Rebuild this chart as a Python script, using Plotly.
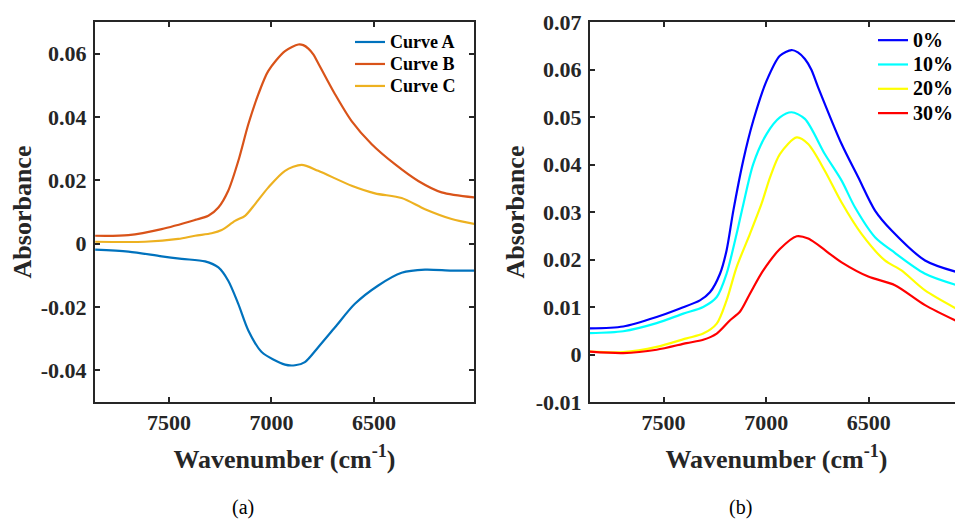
import plotly.graph_objects as go

# ---------------- Panel (a) data ----------------
wn_a = [7860, 7698, 7536, 7438, 7324, 7259, 7211, 7162, 7113, 7048, 6934, 6885, 6837,
        6772, 6690, 6593, 6479, 6365, 6251, 6121, 6007]
curve_a = [-0.0019, -0.0025, -0.0040, -0.0048, -0.0056, -0.0075, -0.0117, -0.0190, -0.0274,
           -0.0342, -0.0382, -0.0384, -0.0374, -0.0327, -0.0264, -0.0190, -0.0132, -0.0092,
           -0.0082, -0.0085, -0.0085]

wn_b = [7860, 7698, 7536, 7373, 7308, 7259, 7211, 7162, 7113, 7064, 7016, 6934, 6869,
        6845, 6820, 6795, 6772, 6690, 6609, 6511, 6398, 6284, 6170, 6007]
curve_b = [0.0025, 0.0027, 0.0046, 0.0075, 0.0088, 0.0114, 0.0167, 0.0261, 0.0377, 0.0472,
           0.0545, 0.0608, 0.0629, 0.0627, 0.0616, 0.0597, 0.0570, 0.0472, 0.0387, 0.0314,
           0.0251, 0.0198, 0.0162, 0.0146]

wn_c = [7860, 7617, 7455, 7373, 7292, 7243, 7178, 7129, 7080, 7016, 6934, 6853, 6772,
        6609, 6495, 6365, 6251, 6121, 6007]
curve_c = [0.0006, 0.0006, 0.0015, 0.0025, 0.0033, 0.0043, 0.0072, 0.0088, 0.0125, 0.0177,
           0.0230, 0.0249, 0.0230, 0.0183, 0.0159, 0.0144, 0.0109, 0.0078, 0.0062]

names_a = ["Curve A", "Curve B", "Curve C"]
colors_a = ["#0072BD", "#D95319", "#EDB120"]

# ---------------- Panel (b) data ----------------
wn_0 = [7860, 7697, 7534, 7420, 7323, 7274, 7225, 7193, 7160, 7112, 7063, 6998, 6933,
        6876, 6845, 6811, 6780, 6746, 6632, 6551, 6469, 6388, 6225, 6040]
pct_0 = [0.0055, 0.0059, 0.0079, 0.0097, 0.0114, 0.0131, 0.0170, 0.0219, 0.0303, 0.0408,
         0.0492, 0.0576, 0.0629, 0.0641, 0.0636, 0.0622, 0.0600, 0.0562, 0.0443, 0.0373,
         0.0303, 0.0261, 0.0198, 0.0170]

wn_10 = [7860, 7697, 7534, 7404, 7307, 7241, 7193, 7144, 7112, 7063, 6998, 6933, 6876,
         6811, 6714, 6632, 6567, 6469, 6388, 6225, 6040]
pct_10 = [0.0045, 0.0049, 0.0066, 0.0086, 0.0100, 0.0121, 0.0170, 0.0254, 0.0315, 0.0401,
          0.0464, 0.0499, 0.0510, 0.0496, 0.0422, 0.0366, 0.0310, 0.0247, 0.0219, 0.0170,
          0.0142]

wn_20 = [7860, 7697, 7534, 7388, 7307, 7241, 7193, 7144, 7079, 7022, 6981, 6933, 6851,
         6795, 6714, 6632, 6535, 6421, 6340, 6225, 6040]
pct_20 = [0.0006, 0.0005, 0.0016, 0.0034, 0.0044, 0.0065, 0.0114, 0.0184, 0.0254, 0.0318,
          0.0373, 0.0422, 0.0457, 0.0443, 0.0387, 0.0320, 0.0254, 0.0198, 0.0177, 0.0135,
          0.0089]

wn_30 = [7860, 7697, 7534, 7388, 7307, 7241, 7176, 7128, 7079, 7014, 6933, 6851, 6795,
         6632, 6502, 6372, 6225, 6040]
pct_30 = [0.0006, 0.0003, 0.0010, 0.0024, 0.0031, 0.0044, 0.0072, 0.0090, 0.0128, 0.0177,
          0.0222, 0.0249, 0.0244, 0.0194, 0.0164, 0.0146, 0.0104, 0.0064]

names_b = ["0%", "10%", "20%", "30%"]
colors_b = ["#0000FF", "#00FFFF", "#FFFF00", "#FF0000"]

x_ticks = [7500, 7000, 6500]
y_ticks_a = [-0.04, -0.02, 0, 0.02, 0.04, 0.06]
y_ticks_b = [-0.01, 0, 0.01, 0.02, 0.03, 0.04, 0.05, 0.06, 0.07]

SERIF = "Times New Roman"
AXC = "#262626"

# page body has an 8px margin; figure is sized to fit inside the 963x521 window
W, H, OFF = 955, 513, 8


def px(x):
    return (x - OFF) / W


def py(y):
    return 1 - (y - OFF) / H


def b(s, size=None):
    if size:
        return '<span style="font-size:%dpx"><b>%s</b></span>' % (size, s)
    return "<b>" + s + "</b>"


fig = go.Figure()

for wn, vals, nm, col in zip([wn_a, wn_b, wn_c], [curve_a, curve_b, curve_c], names_a, colors_a):
    fig.add_trace(go.Scatter(x=wn, y=vals, mode="lines", name=b(nm, 18),
                             line=dict(color=col, width=2.2, shape="spline", smoothing=0.8),
                             xaxis="x", yaxis="y", legend="legend"))

for wn, vals, nm, col in zip([wn_0, wn_10, wn_20, wn_30], [pct_0, pct_10, pct_20, pct_30],
                             names_b, colors_b):
    fig.add_trace(go.Scatter(x=wn, y=vals, mode="lines", name=b(nm, 20),
                             line=dict(color=col, width=2.2, shape="spline", smoothing=0.8),
                             xaxis="x2", yaxis="y2", legend="legend2"))

tickfont = dict(family=SERIF, size=22, color=AXC)
titlefont = dict(family=SERIF, size=26, color=AXC)

common_x = dict(showgrid=False, zeroline=False, showline=True, linecolor=AXC, linewidth=2,
                ticks="inside", ticklen=5, tickwidth=2, tickcolor=AXC, automargin=False,
                tickvals=x_ticks, ticktext=[b(str(t)) for t in x_ticks],
                tickfont=tickfont, ticklabelstandoff=0,
                title=dict(text=b("Wavenumber (cm<sup>-1</sup>)"), font=titlefont, standoff=15))
common_y = dict(showgrid=False, zeroline=False, showline=True, linecolor=AXC, linewidth=2,
                ticks="inside", ticklen=5, tickwidth=2, tickcolor=AXC, automargin=False,
                tickfont=tickfont, ticklabelstandoff=2)

fig.update_layout(
    width=W, height=H,
    margin=dict(l=0, r=0, t=0, b=0, autoexpand=False),
    paper_bgcolor="white", plot_bgcolor="white",
    font=dict(family=SERIF),
    showlegend=True,
    xaxis=dict(common_x, domain=[px(95), px(474)], range=[7861, 6012], mirror="ticks",
               anchor="y"),
    yaxis=dict(common_y, domain=[py(402), py(22)], range=[-0.05, 0.07],
               tickvals=y_ticks_a,
               ticktext=[b(s) for s in ["-0.04", "-0.02", "0", "0.02", "0.04", "0.06"]],
               title=dict(text=b("Absorbance"), font=titlefont, standoff=11),
               mirror="ticks", anchor="x"),
    xaxis2=dict(common_x, domain=[px(590), 1.0], range=[7859, 6040], mirror="ticks",
                anchor="y2"),
    yaxis2=dict(common_y, domain=[py(402), py(22)], range=[-0.01, 0.07],
                tickvals=y_ticks_b,
                ticktext=[b(s) for s in ["-0.01", "0", "0.01", "0.02", "0.03", "0.04",
                                         "0.05", "0.06", "0.07"]],
                title=dict(text=b("Absorbance"), font=titlefont, standoff=4),
                mirror=False, anchor="x2"),
    legend=dict(x=px(350), y=py(26), xanchor="left", yanchor="top",
                bgcolor="rgba(0,0,0,0)", borderwidth=0, tracegroupgap=0,
                font=dict(family=SERIF, size=14.6, color="black")),
    legend2=dict(x=px(873), y=py(23), xanchor="left", yanchor="top",
                 bgcolor="rgba(0,0,0,0)", borderwidth=0, tracegroupgap=0,
                 font=dict(family=SERIF, size=16.4, color="black")),
    annotations=[
        dict(text="(a)", x=px(243), y=0, xref="paper", yref="paper",
             xanchor="center", yanchor="bottom",
             showarrow=False, font=dict(family=SERIF, size=20, color="black")),
        dict(text="(b)", x=px(740), y=0, xref="paper", yref="paper",
             xanchor="center", yanchor="bottom",
             showarrow=False, font=dict(family=SERIF, size=20, color="black")),
    ],
)

fig.write_html("out.html")
